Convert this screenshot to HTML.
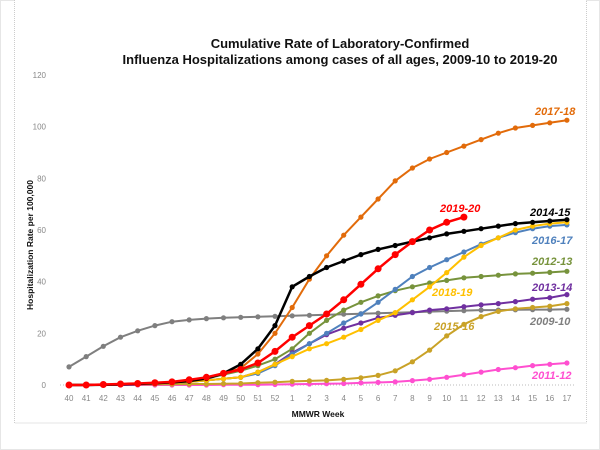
<!DOCTYPE html>
<html><head><meta charset="utf-8"><style>
html,body{margin:0;padding:0;background:#fff;}
svg{display:block;font-family:"Liberation Sans",sans-serif;}
</style></head><body>
<svg id="c" width="600" height="450" viewBox="0 0 600 450" xmlns="http://www.w3.org/2000/svg">
<rect x="0.5" y="0.5" width="599" height="449" fill="#fff" stroke="#ccc" stroke-dasharray="1,1"/>
<rect x="14.5" y="-5" width="572" height="428" fill="#fff" stroke="#ccc" stroke-dasharray="1,1"/>
<text x="340" y="48" text-anchor="middle" font-size="13" font-weight="bold" fill="#111">Cumulative Rate of Laboratory-Confirmed</text>
<text x="340" y="64" text-anchor="middle" font-size="13" font-weight="bold" fill="#111">Influenza Hospitalizations among cases of all ages, 2009-10 to 2019-20</text>
<text transform="translate(33,245) rotate(-90)" text-anchor="middle" font-size="8.5" font-weight="bold" fill="#111">Hospitalization  Rate per 100,000</text>
<text x="318" y="417" text-anchor="middle" font-size="8.5" font-weight="bold" fill="#111">MMWR Week</text>
<line x1="60" y1="385" x2="575" y2="385" stroke="#bbb" stroke-dasharray="1,2"/>
<g id="ticks" font-size="8" fill="#888"></g>
<g id="series"></g>
<g font-size="11" font-style="italic" font-weight="bold">
<text x="535" y="115" fill="#e26b0a">2017-18</text>
<text x="440" y="212" fill="#ff0000">2019-20</text>
<text x="530" y="216" fill="#000">2014-15</text>
<text x="532" y="244" fill="#4f81bd">2016-17</text>
<text x="532" y="265" fill="#77933c">2012-13</text>
<text x="432" y="296" fill="#ffc000">2018-19</text>
<text x="532" y="291" fill="#7030a0">2013-14</text>
<text x="434" y="330" fill="#c9a227">2015-16</text>
<text x="530" y="325" fill="#7f7f7f">2009-10</text>
<text x="532" y="379" fill="#ff4fd0">2011-12</text>
</g>
</svg>
<script>
var X0=69,DX=17.17,Y0=385,K=2.583;
var labels=[40,41,42,43,44,45,46,47,48,49,50,51,52,1,2,3,4,5,6,7,8,9,10,11,12,13,14,15,16,17];
var t=document.getElementById('ticks'),h='';
labels.forEach(function(l,i){h+='<text x="'+(X0+i*DX)+'" y="401" text-anchor="middle">'+l+'</text>';});
[0,20,40,60,80,100,120].forEach(function(v){h+='<text x="46" y="'+(Y0-v*K+3)+'" text-anchor="end">'+v+'</text>';});
t.innerHTML=h;
function pad(a){var n=30-a.length,z=[];var s=a[0];for(var i=0;i<n;i++)z.push(+(s*i/n).toFixed(2));return z.concat(a);}
var S=[
['#7f7f7f',[7,11,15,18.5,21,23,24.5,25.2,25.7,26,26.2,26.4,26.6,26.8,27,27.2,27.4,27.6,27.8,28,28.2,28.4,28.6,28.8,29,29,29.1,29.2,29.2,29.3],2],
['#ff4fd0',[0,0,0,0,0,0,0,0,0,0.1,0.1,0.1,0.2,0.3,0.4,0.5,0.6,0.8,1,1.2,1.7,2.2,3,4,5,6,6.7,7.5,8,8.5],2],
['#c9a227',[0.1,0.1,0.2,0.2,0.2,0.3,0.3,0.4,0.4,0.5,0.6,0.9,1.1,1.4,1.6,1.8,2.2,2.8,3.7,5.5,9,13.5,19,23.5,26.5,28.5,29.5,30,30.5,31.5],2],
['#77933c',[0,0,0.1,0.2,0.4,0.7,1,1.5,2.5,4,5.5,7.5,10,14,20,25,29,32,34.5,36.5,38,39.5,40.5,41.5,42,42.5,43,43.3,43.6,44],2],
['#7030a0',[0,0,0.1,0.2,0.3,0.5,0.8,1.2,1.8,2.4,3,5,8,12.5,16,19.5,22,24,26,27,28,29,29.5,30.3,31,31.5,32.3,33.2,33.8,35],2],
['#4f81bd',[0,0,0.1,0.2,0.3,0.5,0.8,1.2,1.8,2.4,3,4.5,7.5,12,16,20,24,27.5,32,37,42,45.5,48.5,51.5,54.5,57,59,60.5,61.5,62],2],
['#ffc000',[0,0,0.1,0.2,0.3,0.5,0.8,1.2,1.8,2.4,3,5,8,11,14,16,18.5,21.5,25,28,33,38,43.5,49.5,54,57,60,61.5,62.5,63],2],
['#e26b0a',[0,0,0.1,0.2,0.4,0.6,1,1.5,3,4.5,6.5,12,20,30,41,50,58,65,72,79,84,87.5,90,92.5,95,97.5,99.5,100.5,101.5,102.5],2],
['#000000',[0,0,0.1,0.2,0.4,0.7,1,1.5,2.5,4.5,8,14,23,38,42,45.5,48,50.5,52.5,54,55.5,57,58.5,59.5,60.5,61.5,62.5,63,63.5,64],2.5],
['#ff0000',[0,0,0.2,0.4,0.6,0.9,1.2,2,3,4.5,6,8.5,13,18.5,23,27.5,33,39,45,50.5,55.5,60,63,65],2.5]
];
var g='';
S.forEach(function(s){var c=s[0],d=s[1],pts=[],m='';
d.forEach(function(v,i){var x=(X0+i*DX).toFixed(1),y=(Y0-v*K).toFixed(1);pts.push(x+','+y);m+='<circle cx="'+x+'" cy="'+y+'" r="'+(c=='#ff0000'?3.5:2.6)+'" fill="'+c+'"/>';});
g+='<polyline points="'+pts.join(' ')+'" fill="none" stroke="'+c+'" stroke-width="'+s[2]+'"/>'+m;});
document.getElementById('series').innerHTML=g;
</script>
</body></html>
